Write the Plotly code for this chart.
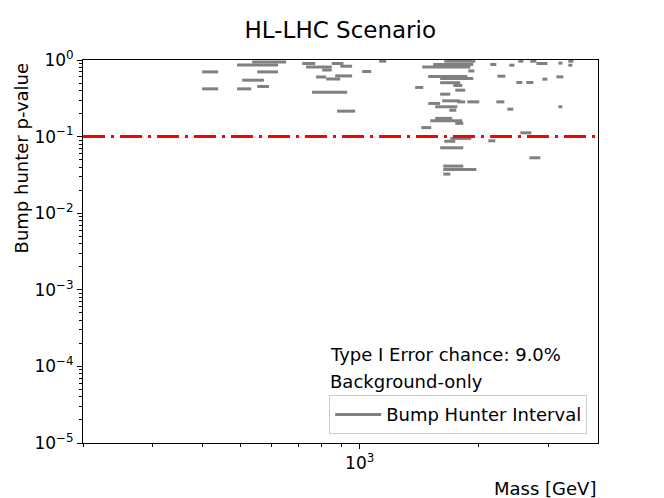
import math
import plotly.graph_objects as go

# Bump hunter intervals: (low mass, high mass) in GeV and p-value
interval_lo = [400, 400, 490, 535, 551, 505, 551, 490, 716, 732, 804, 850, 893, 776, 867, 823, 758, 877,
               1120, 1015, 1381,
               1635, 1534, 1439, 1881, 1490, 1597, 1597, 1724, 1744, 1597, 1616, 1764, 1870, 1490, 1552,
               1684, 1552, 1508, 1744, 1431, 1635, 1694, 1597, 1626, 1626, 1626,
               2138, 2388, 2516, 2698, 2795, 3177, 3366, 3366, 2227, 2487, 2636, 2894, 3140, 2214, 2361,
               3177, 2546, 2113, 2683]
interval_hi = [439, 439, 622, 652, 622, 573, 590, 532, 772, 850, 850, 910, 957, 823, 957, 893, 930, 974,
               1167, 1069, 1448,
               1959, 1936, 1903, 1948, 1870, 1936, 1795, 1816, 1848, 1694, 1795, 1848, 2005, 1597, 1764,
               1754, 1714, 1816, 1827, 1516, 1744, 1914, 1827, 1827, 1971, 1694,
               2214, 2459, 2591, 2795, 2980, 3251, 3466, 3445, 2333, 2576, 2746, 2980, 3270, 2320, 2444,
               3251, 2714, 2201, 2860]
interval_p = [0.70, 0.42, 0.86, 0.94, 0.70, 0.545, 0.451, 0.42, 0.90, 0.81, 0.74, 0.90, 0.83, 0.60, 0.62, 0.565, 0.38, 0.215,
              0.965, 0.708, 0.438,
              0.965, 0.874, 0.813, 0.72, 0.61, 0.574, 0.505, 0.465, 0.404, 0.358, 0.293, 0.284, 0.284, 0.271, 0.245,
              0.221, 0.173, 0.161, 0.149, 0.131, 0.087, 0.0947, 0.0714, 0.0412, 0.0373, 0.0324,
              0.874, 0.855, 0.965, 0.965, 0.90, 0.91, 0.965, 0.855, 0.615, 0.509, 0.509, 0.562, 0.602, 0.284, 0.228,
              0.245, 0.112, 0.0881, 0.0529]

threshold = 0.1
mass_range = [200, 4000]
p_range = [1e-5, 1]

y_major = [1e-5, 1e-4, 1e-3, 1e-2, 1e-1, 1]
y_major_text = ["10<sup>\u22125</sup>", "10<sup>\u22124</sup>", "10<sup>\u22123</sup>",
                "10<sup>\u22122</sup>", "10<sup>\u22121</sup>", "10<sup>0</sup>"]
x_major = [1000]
x_major_text = ["10<sup>3</sup>"]
x_minor = [200, 300, 400, 500, 600, 700, 800, 900, 2000, 3000]
y_minor = [m * 10 ** e for e in range(-5, 0) for m in range(2, 10)]

FONT = "DejaVu Sans"

xs, ys = [], []
for lo, hi, p in zip(interval_lo, interval_hi, interval_p):
    xs += [lo, hi, None]
    ys += [p, p, None]

fig = go.Figure()
fig.add_trace(go.Scatter(x=xs, y=ys, mode="lines", name="Bump Hunter Interval",
                         line=dict(color="#808080", width=3), connectgaps=False))
fig.add_trace(go.Scatter(x=mass_range, y=[threshold, threshold], mode="lines", showlegend=False,
                         line=dict(color="red", width=3, dash="22px,6px,3px,6px")))

fig.update_layout(
    width=664, height=498,
    margin=dict(l=83, r=66, t=60, b=55),
    paper_bgcolor="white", plot_bgcolor="white",
    font=dict(family=FONT, size=17, color="black"),
    title=dict(text="HL-LHC Scenario", x=(83 + 597.6) / 2 / 664, xanchor="center",
               y=1 - 30 / 498, yanchor="middle", yref="container",
               font=dict(family=FONT, size=23, color="black")),
    legend=dict(x=0.979, y=0.023, xanchor="right", yanchor="bottom", itemwidth=46,
                bgcolor="rgba(255,255,255,0.8)", bordercolor="#cccccc", borderwidth=1,
                font=dict(family=FONT, size=18, color="black")),
    showlegend=True,
)

fig.update_xaxes(type="log", range=[math.log10(mass_range[0]), math.log10(mass_range[1])],
                 tickmode="array", tickvals=x_major, ticktext=x_major_text,
                 ticks="outside", ticklen=5, tickwidth=1, tickcolor="black",
                 showline=True, linecolor="black", linewidth=1, mirror=True,
                 showgrid=False, zeroline=False,
                 tickfont=dict(family=FONT, size=17),
                 minor=dict(tickmode="array", tickvals=x_minor, ticks="outside", ticklen=3,
                            tickwidth=1, tickcolor="black", showgrid=False))
fig.update_yaxes(type="log", range=[math.log10(p_range[0]), math.log10(p_range[1])],
                 tickmode="array", tickvals=y_major, ticktext=y_major_text,
                 ticks="outside", ticklen=5, tickwidth=1, tickcolor="black",
                 showline=True, linecolor="black", linewidth=1, mirror=True,
                 showgrid=False, zeroline=False,
                 tickfont=dict(family=FONT, size=17),
                 minor=dict(tickmode="array", tickvals=y_minor, ticks="outside", ticklen=3,
                            tickwidth=1, tickcolor="black", showgrid=False))

# axis labels and text notes
fig.add_annotation(text="Mass [GeV]", xref="paper", yref="paper", x=1, y=-0.1195,
                   xanchor="right", yanchor="middle", showarrow=False,
                   font=dict(family=FONT, size=18))
fig.add_annotation(text="Bump hunter p-value", xref="paper", yref="paper",
                   x=(22 - 83) / 514.6, y=1, xanchor="center", yanchor="top",
                   textangle=-90, showarrow=False, font=dict(family=FONT, size=18))
fig.add_annotation(text="Type I Error chance: 9.0%", xref="paper", yref="paper",
                   x=(327.5 - 83) / 514.6, y=(443.2 - 355) / 383.4, xanchor="left", yanchor="middle",
                   showarrow=False, font=dict(family=FONT, size=18))
fig.add_annotation(text="Background-only", xref="paper", yref="paper",
                   x=(327.5 - 83) / 514.6, y=(443.2 - 382) / 383.4, xanchor="left", yanchor="middle",
                   showarrow=False, font=dict(family=FONT, size=18))

fig.write_html("out.html", config={"displayModeBar": False},
               post_script="document.body.style.margin='0px';document.body.style.padding='0px';")
